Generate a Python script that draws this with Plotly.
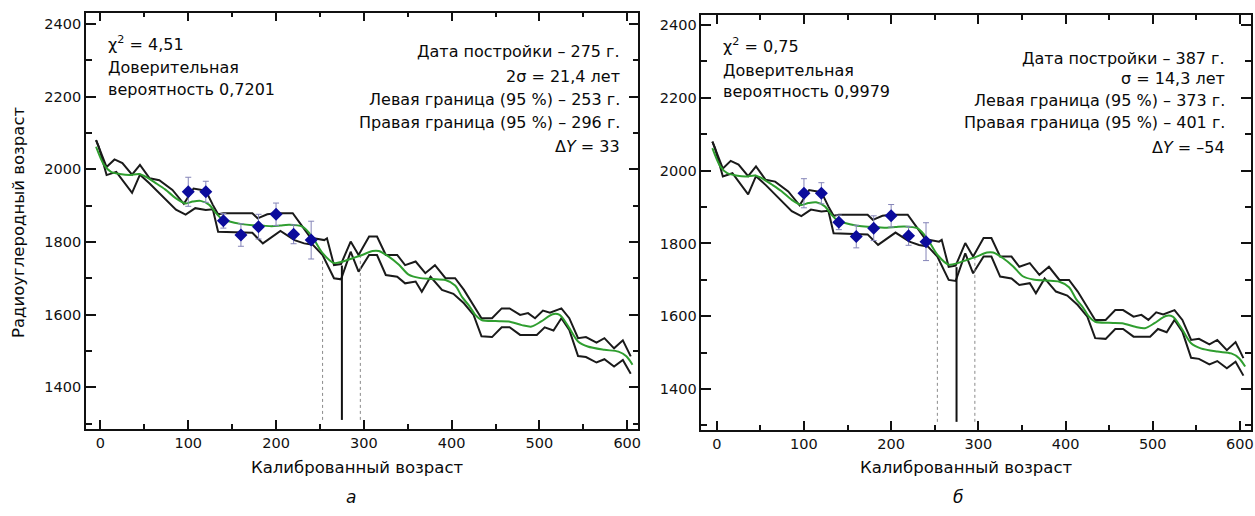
import plotly.graph_objects as go

# ---------------- data ----------------
years_upper = [-5, 7, 16, 25, 36, 45, 56, 67, 82, 95, 106, 120, 128, 134, 140, 173, 179, 190, 200,
               219, 238, 243, 255, 258, 266, 274, 285, 294, 306, 315, 325, 338, 347, 359, 370, 381,
               393, 404, 414, 425, 434, 446, 457, 466, 478, 487, 495, 504, 512, 525, 534, 544, 553,
               565, 574, 585, 595, 604]
vals_upper = [2080, 2006, 2027, 2017, 1985, 2012, 1975, 1970, 1943, 1905, 1947, 1941, 1902, 1876, 1879,
              1879, 1865, 1876, 1879, 1879, 1816, 1810, 1805, 1810, 1736, 1739, 1801, 1764, 1815,
              1815, 1764, 1764, 1736, 1746, 1714, 1736, 1700, 1700, 1668, 1626, 1590, 1590, 1617,
              1617, 1599, 1604, 1590, 1611, 1605, 1617, 1590, 1535, 1538, 1523, 1535, 1507, 1529,
              1485]

years_lower = [-5, -2, 7, 18, 36, 45, 56, 75, 86, 97, 108, 120, 128, 134, 173, 185, 205, 221, 232,
               242, 253, 266, 274, 285, 294, 306, 315, 325, 338, 347, 359, 366, 376, 389, 402, 414,
               425, 434, 446, 457, 466, 478, 487, 497, 506, 516, 525, 534, 544, 553, 565, 574, 585,
               595, 604]
vals_lower = [2080, 2062, 1984, 1993, 1935, 1985, 1961, 1916, 1889, 1875, 1893, 1888, 1890, 1828,
              1825, 1796, 1830, 1805, 1796, 1792, 1764, 1700, 1697, 1773, 1718, 1764, 1764, 1709,
              1704, 1686, 1691, 1663, 1704, 1668, 1657, 1631, 1599, 1540, 1538, 1565, 1565, 1544,
              1544, 1544, 1565, 1556, 1590, 1558, 1486, 1483, 1468, 1477, 1457, 1475, 1437]

years_mid = [-5, 4, 12, 22, 33, 44, 52, 63, 74, 86, 97, 105, 114, 124, 130, 137, 146, 161, 173, 184,
             195, 205, 215, 230, 241, 253, 266, 276, 287, 298, 310, 317, 328, 340, 351, 363, 378,
             393, 404, 412, 420, 427, 434, 450, 465, 480, 491, 502, 515, 523, 533, 544, 555, 574,
             590, 599, 606]
vals_mid = [2062, 2012, 1993, 1987, 1984, 1987, 1979, 1962, 1944, 1920, 1906, 1911, 1913, 1902, 1884,
            1866, 1857, 1849, 1846, 1845, 1843, 1845, 1847, 1842, 1815, 1769, 1742, 1746, 1755,
            1764, 1775, 1775, 1760, 1737, 1710, 1701, 1698, 1695, 1680, 1648, 1624, 1599, 1585,
            1582, 1581, 1571, 1567, 1581, 1601, 1599, 1567, 1526, 1512, 1503, 1498, 1485, 1462]

pt_years = [100, 120, 140, 160, 180, 200, 220, 240]
pt_vals = [1938, 1938, 1858, 1819, 1842, 1876, 1821, 1805]
pt_err = [40, 29, 20, 31, 34, 31, 26, 52]

vline_years = [253, 275, 296]
vline_tops = [1755, 1735, 1760]
vline_bottom = 1310

x_ticks = [0, 100, 200, 300, 400, 500, 600]
y_ticks = [1400, 1600, 1800, 2000, 2200, 2400]

panel_a_left = ["χ<sup>2</sup> = 4,51", "Доверительная", "вероятность 0,7201"]
panel_a_right = ["Дата постройки – 275 г.", "2σ = 21,4 лет", "Левая граница (95 %) – 253 г.",
                 "Правая граница (95 %) – 296 г.", "Δ<i>Y</i> = 33"]
panel_b_left = ["χ<sup>2</sup> = 0,75", "Доверительная", "вероятность 0,9979"]
panel_b_right = ["Дата постройки – 387 г.", "σ = 14,3 лет", "Левая граница (95 %) – 373 г.",
                 "Правая граница (95 %) – 401 г.", "Δ<i>Y</i> = –54"]
x_title = "Калиброванный возраст"
y_title = "Радиоуглеродный возраст"
panel_labels = ["а", "б"]

# ---------------- figure ----------------
W, H = 1255, 516
FONT = "DejaVu Sans, Liberation Sans, Arial, sans-serif"
fig = go.Figure()

for k, (xa, ya) in enumerate([("x", "y"), ("x2", "y2")]):
    fig.add_trace(go.Scatter(x=years_upper, y=vals_upper, mode="lines", xaxis=xa, yaxis=ya,
                             line=dict(color="#1a1a1a", width=2), showlegend=False, hoverinfo="skip"))
    fig.add_trace(go.Scatter(x=years_lower, y=vals_lower, mode="lines", xaxis=xa, yaxis=ya,
                             line=dict(color="#1a1a1a", width=2), showlegend=False, hoverinfo="skip"))
    fig.add_trace(go.Scatter(x=years_mid, y=vals_mid, mode="lines", xaxis=xa, yaxis=ya,
                             line=dict(color="#2f9e2f", width=2, shape="spline", smoothing=0.8),
                             showlegend=False, hoverinfo="skip"))
    for i, yr in enumerate(vline_years):
        solid = (i == 1)
        fig.add_trace(go.Scatter(x=[yr, yr], y=[vline_bottom, vline_tops[i]], mode="lines",
                                 xaxis=xa, yaxis=ya, showlegend=False, hoverinfo="skip",
                                 line=dict(color="#111111" if solid else "#8a8a8a",
                                           width=2 if solid else 1,
                                           dash="solid" if solid else "dot")))
    fig.add_trace(go.Scatter(x=pt_years, y=pt_vals, mode="markers", xaxis=xa, yaxis=ya,
                             marker=dict(symbol="diamond", size=10, color="#0b0b9c"),
                             error_y=dict(type="data", array=pt_err, visible=True,
                                          color="#8585b8", thickness=1, width=3),
                             showlegend=False))

axis_common = dict(showline=True, linecolor="#111111", linewidth=1.5, mirror="ticks",
                   ticks="inside", tickcolor="#111111", tickwidth=1.5, showgrid=False,
                   zeroline=False, tickfont=dict(family=FONT, size=14.5, color="#111111"))

fig.update_layout(
    width=W, height=H, margin=dict(l=0, r=0, t=0, b=0),
    paper_bgcolor="white", plot_bgcolor="white",
    xaxis=dict(domain=[86 / W, 640 / W], range=[-16.7, 612.8], anchor="y",
               tickvals=x_ticks, ticklen=9, minor=dict(ticks="inside", ticklen=5, dtick=50,
                                                       tick0=0, tickcolor="#111111"),
               **axis_common),
    yaxis=dict(domain=[1 - 429 / H, 1 - 12.7 / H], range=[1285, 2431], anchor="x",
               tickvals=y_ticks, ticklen=10, minor=dict(ticks="inside", ticklen=6, dtick=100,
                                                        tick0=0, tickcolor="#111111"),
               **axis_common),
    xaxis2=dict(domain=[703 / W, 1254 / W], range=[-17.7, 612.7], anchor="y2",
                tickvals=x_ticks, ticklen=9, minor=dict(ticks="inside", ticklen=5, dtick=50,
                                                        tick0=0, tickcolor="#111111"),
                **axis_common),
    yaxis2=dict(domain=[1 - 430 / H, 1 - 15 / H], range=[1287.6, 2427.7], anchor="x2",
                tickvals=y_ticks, ticklen=10, minor=dict(ticks="inside", ticklen=6, dtick=100,
                                                         tick0=0, tickcolor="#111111"),
                **axis_common),
)

ann_font = dict(family=FONT, size=16, color="#0a0a0a")


def add_text(text, px, py, xanchor="left", font=ann_font, **kw):
    fig.add_annotation(text=text, x=px / W, y=1 - py / H, xref="paper", yref="paper",
                       xanchor=xanchor, yanchor="middle", showarrow=False, font=font, **kw)


for line, py in zip(panel_a_left, [43, 67, 90]):
    add_text(line, 106, py)
for line, py in zip(panel_a_right, [52, 76, 99, 123, 146]):
    add_text(line, 623, py, xanchor="right")
for line, py in zip(panel_b_left, [45, 70, 92]):
    add_text(line, 723, py)
for line, py in zip(panel_b_right, [59, 78, 100, 123, 147]):
    add_text(line, 1230, py, xanchor="right")

title_font = dict(family=FONT, size=16.5, color="#0a0a0a")
add_text(x_title, 358, 467, xanchor="center", font=title_font)
add_text(x_title, 968, 467, xanchor="center", font=title_font)
add_text(y_title, 18, 222, xanchor="center", font=title_font, textangle=-90)
lab_font = dict(family=FONT, size=17, color="#0a0a0a")
add_text("<i>" + panel_labels[0] + "</i>", 352, 497, xanchor="center", font=lab_font)
add_text("<i>" + panel_labels[1] + "</i>", 960, 497, xanchor="center", font=lab_font)

fig.write_html("out.html", config={"displayModeBar": False},
               post_script="document.body.style.margin='0px';")
